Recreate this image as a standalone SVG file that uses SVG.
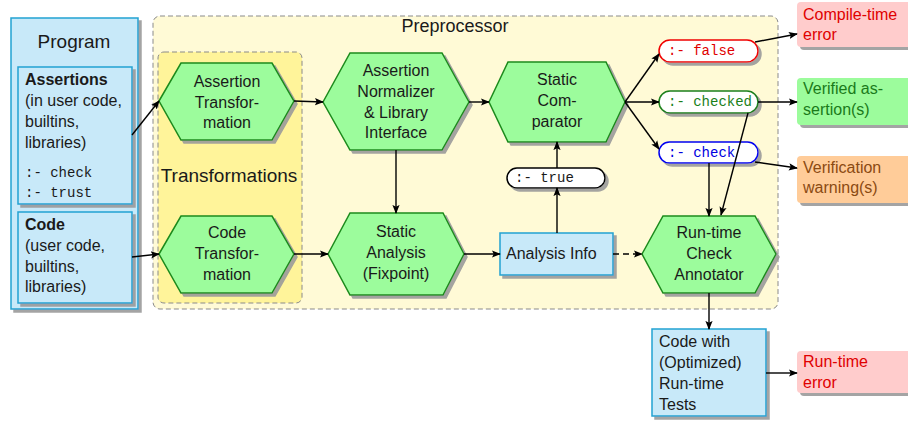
<svg xmlns="http://www.w3.org/2000/svg" width="908" height="421" viewBox="0 0 908 421">
<defs>
<filter id="sh" x="-10%" y="-10%" width="130%" height="130%"><feDropShadow dx="3" dy="3" stdDeviation="0.6" flood-color="#9a9a9a" flood-opacity="0.9"/></filter>
<marker id="ah" viewBox="0 0 10 10" refX="9" refY="5" markerWidth="9" markerHeight="9" markerUnits="userSpaceOnUse" orient="auto"><path d="M0,1 L10,5 L0,9 L2,5 Z" fill="#000"/></marker>
<style>
text{font-family:"Liberation Sans","DejaVu Sans",sans-serif;font-size:16px;fill:#1a1a1a}
.c{text-anchor:middle}
.mono{font-family:"Liberation Mono","DejaVu Sans Mono",monospace;font-size:14px}
.bold{font-weight:bold}
.hex{fill:#9cfc9c;stroke:#1c8a1c;stroke-width:1.5;filter:url(#sh)}
.blue{fill:#c8e9f9;stroke:#23a2d2;stroke-width:1.5;filter:url(#sh)}
.pill{fill:#fff;stroke-width:1.5;filter:url(#sh)}
.out{filter:url(#sh)}
.cn{fill:none;stroke:#000;stroke-width:1.4;marker-end:url(#ah)}
</style>
</defs>

<g id="preprocessor">
<rect x="153" y="16" width="625" height="293" rx="7" fill="#fffad6" stroke="#8a8a8a" stroke-width="1" stroke-dasharray="5,3"/>
<text class="c" x="455" y="32" style="font-size:18px">Preprocessor</text>
</g>

<g id="transformations">
<rect x="158" y="52" width="144" height="251" rx="6" fill="#fff49a" stroke="#8a8a8a" stroke-width="1" stroke-dasharray="5,3"/>
<text class="c" x="229" y="182" style="font-size:19px">Transformations</text>
</g>

<g id="program">
<rect class="blue" x="11" y="18" width="127" height="291"/>
<text class="c" x="74" y="48" style="font-size:19px">Program</text>
</g>

<g id="assertions">
<rect class="blue" x="18" y="67" width="114" height="137"/>
<text x="25" y="85" class="bold">Assertions</text>
<text x="25" y="106">(in user code,</text>
<text x="25" y="127">builtins,</text>
<text x="25" y="148">libraries)</text>
<text x="25" y="177" class="mono">:- check</text>
<text x="25" y="197" class="mono">:- trust</text>
</g>

<g id="code">
<rect class="blue" x="18" y="212" width="114" height="91"/>
<text x="25" y="230" class="bold">Code</text>
<text x="25" y="251">(user code,</text>
<text x="25" y="272">builtins,</text>
<text x="25" y="292">libraries)</text>
</g>

<g id="assertion-transformation">
<polygon class="hex" points="159,101 181,63 272,63 294,101 272,140 181,140"/>
<text class="c" x="227" y="87">Assertion</text>
<text class="c" x="227" y="108">Transfor-</text>
<text class="c" x="227" y="128">mation</text>
</g>

<g id="code-transformation">
<polygon class="hex" points="159,254 181,216 272,216 294,254 272,293 181,293"/>
<text class="c" x="227" y="238">Code</text>
<text class="c" x="227" y="259">Transfor-</text>
<text class="c" x="227" y="280">mation</text>
</g>

<g id="assertion-normalizer">
<polygon class="hex" points="323,102 350,53 442,53 469,102 442,150 350,150"/>
<text class="c" x="396" y="76">Assertion</text>
<text class="c" x="396" y="97">Normalizer</text>
<text class="c" x="396" y="118">&amp; Library</text>
<text class="c" x="396" y="138">Interface</text>
</g>

<g id="static-analysis">
<polygon class="hex" points="328,254 350,213 443,213 464,254 443,295 350,295"/>
<text class="c" x="396" y="237">Static</text>
<text class="c" x="396" y="258">Analysis</text>
<text class="c" x="396" y="279">(Fixpoint)</text>
</g>

<g id="static-comparator">
<polygon class="hex" points="489,102 508,62 606,62 625,102 606,142 508,142"/>
<text class="c" x="557" y="85">Static</text>
<text class="c" x="557" y="106">Com-</text>
<text class="c" x="557" y="127">parator</text>
</g>

<g id="analysis-info">
<rect class="blue" x="500" y="233" width="113" height="42"/>
<text x="506" y="259">Analysis Info</text>
</g>

<g id="true">
<rect class="pill" x="507" y="168" width="98" height="20" rx="10" stroke="#000"/>
<text x="515" y="182" class="mono">:- true</text>
</g>

<g id="false">
<rect class="pill" x="659" y="40" width="99" height="22" rx="11" stroke="#f00000"/>
<text x="668" y="55" class="mono" style="fill:#e00000">:- false</text>
</g>

<g id="checked">
<rect class="pill" x="659" y="91" width="99" height="22" rx="11" stroke="#1a7f1a"/>
<text x="668" y="106" class="mono" style="fill:#1a7f1a">:- checked</text>
</g>

<g id="check">
<rect class="pill" x="659" y="142" width="99" height="21" rx="10.5" stroke="#0000f0"/>
<text x="668" y="157" class="mono" style="fill:#0000e0">:- check</text>
</g>

<g id="runtime-check-annotator">
<polygon class="hex" points="642,254 663,216 755,216 776,254 755,293 663,293"/>
<text class="c" x="709" y="238">Run-time</text>
<text class="c" x="709" y="259">Check</text>
<text class="c" x="709" y="280">Annotator</text>
</g>

<g id="code-with-tests">
<rect class="blue" x="652" y="329" width="114" height="87"/>
<text x="659" y="347">Code with</text>
<text x="659" y="368">(Optimized)</text>
<text x="659" y="389">Run-time</text>
<text x="659" y="410">Tests</text>
</g>

<g id="compile-time-error">
<rect class="out" x="797" y="2" width="125" height="45" rx="4" fill="#ffcccc"/>
<text x="803" y="20" style="fill:#e00000">Compile-time</text>
<text x="803" y="40" style="fill:#e00000">error</text>
</g>

<g id="verified">
<rect class="out" x="797" y="78" width="125" height="47" rx="4" fill="#9cfc9c"/>
<text x="803" y="94" style="fill:#1a7a1a">Verified as-</text>
<text x="803" y="115" style="fill:#1a7a1a">sertion(s)</text>
</g>

<g id="verification-warning">
<rect class="out" x="797" y="156" width="125" height="47" rx="4" fill="#ffcc99"/>
<text x="803" y="173" style="fill:#8b4a12">Verification</text>
<text x="803" y="193" style="fill:#8b4a12">warning(s)</text>
</g>

<g id="runtime-error">
<rect class="out" x="797" y="351" width="125" height="42" rx="4" fill="#ffcccc"/>
<text x="803" y="367" style="fill:#e00000">Run-time</text>
<text x="803" y="388" style="fill:#e00000">error</text>
</g>

<g id="connectors">
<line class="cn" x1="132" y1="135" x2="159" y2="101"/>
<line class="cn" x1="132" y1="257" x2="159" y2="254"/>
<line class="cn" x1="294" y1="101" x2="323" y2="102"/>
<line class="cn" x1="294" y1="254" x2="328" y2="254"/>
<line class="cn" x1="396" y1="150" x2="396" y2="213"/>
<line class="cn" x1="469" y1="102" x2="489" y2="102"/>
<line class="cn" x1="464" y1="254" x2="500" y2="254"/>
<line class="cn" x1="557" y1="233" x2="557" y2="188"/>
<line class="cn" x1="557" y1="168" x2="557" y2="142"/>
<line class="cn" x1="613" y1="254" x2="642" y2="254" stroke-dasharray="6,4"/>
<line class="cn" x1="625" y1="102" x2="659" y2="54"/>
<line class="cn" x1="625" y1="102" x2="659" y2="102"/>
<line class="cn" x1="625" y1="102" x2="659" y2="149"/>
<line class="cn" x1="755" y1="42" x2="797" y2="34"/>
<line class="cn" x1="758" y1="102" x2="797" y2="102"/>
<line class="cn" x1="755" y1="162" x2="797" y2="168"/>
<line class="cn" x1="709" y1="163" x2="709" y2="216"/>
<line class="cn" x1="748" y1="113" x2="721" y2="215"/>
<line class="cn" x1="709" y1="293" x2="709" y2="329"/>
<line class="cn" x1="766" y1="373" x2="797" y2="373"/>
</g>
</svg>
